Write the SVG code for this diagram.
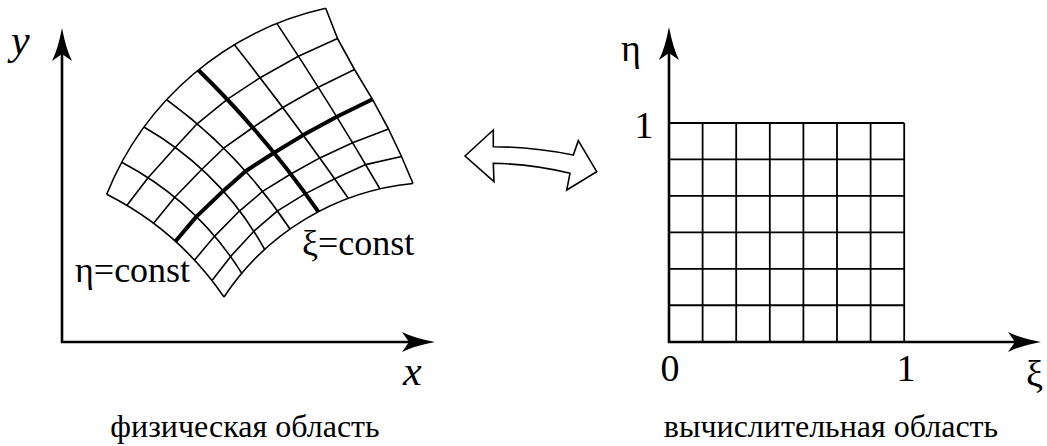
<svg xmlns="http://www.w3.org/2000/svg" width="1047" height="446" viewBox="0 0 1047 446">
<defs>
<path id="ah" d="M0,0 Q-21,-4 -33,-10 L-26,0 L-33,10 Q-21,4 0,0 Z" fill="#000"/>
</defs>
<rect width="1047" height="446" fill="#fff"/>
<g id="physical-axes" fill="none" stroke="#000" stroke-width="2.6">
<path d="M62,50 V342 H412"/>
<use href="#ah" transform="translate(62,28) rotate(-90)" stroke="none"/>
<use href="#ah" transform="translate(435,342)" stroke="none"/>
</g>
<g id="curved-grid" fill="none" stroke="#000" stroke-width="1.6" stroke-linejoin="round">
<path d="M106.7,194.3 A308.4,308.4 0 0 1 325.7,8.3"/>
<path d="M224,297 A255.9,255.9 0 0 1 413,183.5"/>
<path d="M106.7,194.3 Q178.5,230.6 224,297"/>
<path d="M121.7,162.3 Q197.3,202.25 242,273.6"/>
<path d="M144.3,127.2 Q222.11,172.17 265,250"/>
<path d="M167,100 Q240.08,153.46 290,229"/>
<path d="M234,44.3 Q293.56,119.51 348.3,198.3"/>
<path d="M277,23.6 Q331.05,104.71 380,189"/>
<polyline points="325.7,8.3 337.5,38.5 354.5,69.5 372.5,99.3 388.5,129 401.5,156.5 413,183.5"/>
<polyline points="126.8,205.4 148.1,177.8 175.2,147.5 197.1,123.8 227.2,99.3 260.1,77.7 298.4,56.2 337.5,38.5"/>
<polyline points="153.6,223.3 174.8,197.3 201.9,169.3 223.7,148.2 252.8,127.5 282.8,107.5 318.3,87.2 354.5,69.5"/>
<polyline points="194.5,260.1 214.7,236.1 239.7,210.8 262.6,191.4 290.8,174 319.8,157.9 352.6,142.7 388.5,129"/>
<polyline points="212,280.6 230.7,256.4 253.9,231.2 277.5,210.9 305.5,193.6 334.7,178.8 365.7,164.6 401.5,156.5"/>
<g stroke-width="4">
<path d="M198.3,70 Q265.17,135.04 318.3,211.7"/>
<polyline points="175.5,241.3 196.4,216.6 223.3,190.9 245.5,171.2 274.1,152.8 303.2,135.1 336.8,116.8 372.5,99.3"/>
</g>
</g>
<g id="double-arrow">
<path d="M465,156 L493.3,130 L493.3,146.7 Q533,147 573.3,155 L578.3,140.7 L596.7,171.7 L566.7,190 L570,173.3 Q532,164 493.3,163.3 L494,181.7 Z" fill="#fff" stroke="#000" stroke-width="1.6"/>
</g>
<g id="computational-grid" fill="none" stroke="#000" stroke-width="1.8">
<path d="M702.6,123 V342 M736.2,123 V342 M769.8,123 V342 M803.4,123 V342 M837,123 V342 M870.6,123 V342 M904.2,123 V342"/>
<path d="M669,123 H904.2 M669,159.45 H904.2 M669,195.9 H904.2 M669,232.35 H904.2 M669,268.8 H904.2 M669,305.25 H904.2"/>
</g>
<g id="computational-axes" fill="none" stroke="#000" stroke-width="2.6">
<path d="M669,50 V342 H1018"/>
<use href="#ah" transform="translate(669,27) rotate(-90)" stroke="none"/>
<use href="#ah" transform="translate(1041,342)" stroke="none"/>
</g>
<g id="labels" fill="#000">
<text x="11" y="54" font-family="Liberation Serif, serif" font-size="42" font-style="italic">y</text>
<text x="403" y="385" font-family="Liberation Serif, serif" font-size="42" font-style="italic">x</text>
<text x="75" y="282" font-family="Liberation Serif, serif" font-size="36">η=const</text>
<text x="302" y="255" font-family="Liberation Serif, serif" font-size="36">ξ=const</text>
<text x="245" y="437" font-family="Liberation Serif, serif" font-size="32" text-anchor="middle">физическая область</text>
<text x="621" y="61" font-family="Liberation Serif, serif" font-size="38">η</text>
<text x="644" y="138" font-family="Liberation Serif, serif" font-size="38" text-anchor="middle">1</text>
<text x="670" y="381" font-family="Liberation Serif, serif" font-size="38" text-anchor="middle">0</text>
<text x="906" y="381" font-family="Liberation Serif, serif" font-size="38" text-anchor="middle">1</text>
<text x="1026" y="387" font-family="Liberation Serif, serif" font-size="38">ξ</text>
<text x="831" y="437" font-family="Liberation Serif, serif" font-size="32" text-anchor="middle">вычислительная область</text>
</g>
</svg>
